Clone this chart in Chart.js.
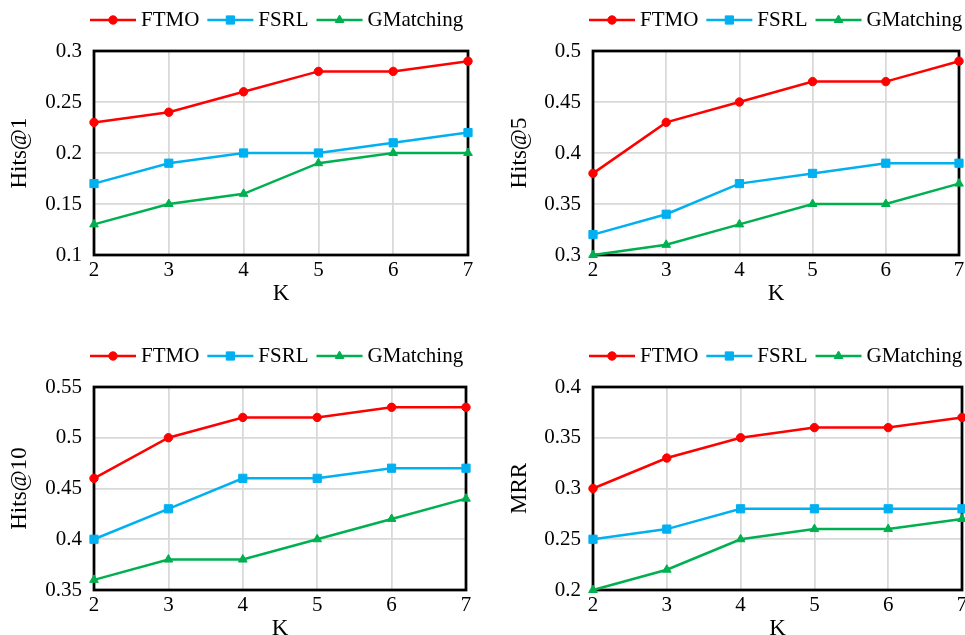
<!DOCTYPE html>
<html>
<head>
<meta charset="utf-8">
<title>Hits@k and MRR vs K</title>
<script src="https://cdn.jsdelivr.net/npm/chart.js@4"></script>
<style>
  html, body { margin: 0; padding: 0; background: #fff; overflow: hidden; }
  body { width: 965px; height: 635px; position: relative; }
  .panel { position: absolute; }
</style>
</head>
<body>
<div class="panel" style="left:0;top:0"><canvas id="hits1" width="480" height="311"></canvas></div>
<div class="panel" style="left:500px;top:0"><canvas id="hits5" width="480" height="311"></canvas></div>
<div class="panel" style="left:0;top:330px"><canvas id="hits10" width="480" height="316"></canvas></div>
<div class="panel" style="left:500px;top:330px"><canvas id="mrr" width="480" height="316"></canvas></div>
<script>
// x categories (K)
const kValues = ['2', '3', '4', '5', '6', '7'];
const seriesNames = ['FTMO', 'FSRL', 'GMatching'];

// Hits@1
const hits1FTMO = [0.23, 0.24, 0.26, 0.28, 0.28, 0.29];
const hits1FSRL = [0.17, 0.19, 0.20, 0.20, 0.21, 0.22];
const hits1GMatching = [0.13, 0.15, 0.16, 0.19, 0.20, 0.20];
const hits1Ticks = [0.1, 0.15, 0.2, 0.25, 0.3];

// Hits@5
const hits5FTMO = [0.38, 0.43, 0.45, 0.47, 0.47, 0.49];
const hits5FSRL = [0.32, 0.34, 0.37, 0.38, 0.39, 0.39];
const hits5GMatching = [0.30, 0.31, 0.33, 0.35, 0.35, 0.37];
const hits5Ticks = [0.3, 0.35, 0.4, 0.45, 0.5];

// Hits@10
const hits10FTMO = [0.46, 0.50, 0.52, 0.52, 0.53, 0.53];
const hits10FSRL = [0.40, 0.43, 0.46, 0.46, 0.47, 0.47];
const hits10GMatching = [0.36, 0.38, 0.38, 0.40, 0.42, 0.44];
const hits10Ticks = [0.35, 0.4, 0.45, 0.5, 0.55];

// MRR
const mrrFTMO = [0.30, 0.33, 0.35, 0.36, 0.36, 0.37];
const mrrFSRL = [0.25, 0.26, 0.28, 0.28, 0.28, 0.28];
const mrrGMatching = [0.20, 0.22, 0.25, 0.26, 0.26, 0.27];
const mrrTicks = [0.2, 0.25, 0.3, 0.35, 0.4];

const colors = ['#FF0000', '#00B0F0', '#00B050'];
const markers = ['circle', 'rect', 'triangle'];
const markerSizes = [4.2, 5.8, 5];

const FONT = '"Liberation Serif", "Times New Roman", serif';
Chart.defaults.font.family = FONT;
Chart.defaults.color = '#000';

// black box round the plot area
const frame = {
    id: 'frame',
    beforeDatasetsDraw(chart) {
        const { ctx, chartArea: a } = chart;
        ctx.save();
        ctx.strokeStyle = '#000';
        ctx.lineWidth = 2.75;
        ctx.strokeRect(a.left, a.top, a.right - a.left, a.bottom - a.top);
        ctx.restore();
    }
};

// legend with a line segment and marker for each series
const lineLegend = {
    id: 'lineLegend',
    afterDraw(chart) {
        const { ctx, chartArea } = chart;
        const y = chartArea.top - 31;
        let x = chartArea.left - 4;
        ctx.save();
        ctx.font = '21px ' + FONT;
        ctx.textBaseline = 'middle';
        chart.data.datasets.forEach(ds => {
            ctx.strokeStyle = ds.borderColor;
            ctx.lineWidth = ds.borderWidth;
            ctx.beginPath();
            ctx.moveTo(x, y);
            ctx.lineTo(x + 46, y);
            ctx.stroke();
            ctx.fillStyle = ds.pointBackgroundColor;
            ctx.lineWidth = 1;
            Chart.helpers.drawPoint(ctx, { pointStyle: ds.pointStyle, radius: ds.pointRadius, rotation: 0, borderWidth: 1 }, x + 23, y);
            ctx.fillStyle = '#000';
            ctx.textAlign = 'left';
            ctx.fillText(ds.label, x + 51, y);
            x += 51 + ctx.measureText(ds.label).width + 8;
        });
        ctx.restore();
    }
};

function makeChart(id, yTitle, series, yTicks, padTop, padRight, axisWidth) {
    new Chart(document.getElementById(id), {
        type: 'line',
        data: {
            labels: kValues,
            datasets: series.map((values, i) => ({
                label: seriesNames[i],
                data: values,
                borderColor: colors[i],
                backgroundColor: colors[i],
                pointBackgroundColor: colors[i],
                pointBorderColor: colors[i],
                borderWidth: 2.5,
                pointStyle: markers[i],
                pointRadius: markerSizes[i],
                pointBorderWidth: 1,
                tension: 0,
                clip: false
            }))
        },
        options: {
            responsive: false,
            animation: false,
            layout: { padding: { top: padTop, right: padRight, left: 0, bottom: 0 } },
            plugins: { legend: { display: false }, tooltip: { enabled: false } },
            scales: {
                x: {
                    offset: false,
                    grid: { color: '#D9D9D9', lineWidth: 1.75, drawTicks: false },
                    border: { display: false },
                    ticks: { padding: 3, font: { size: 21 }, maxRotation: 0 },
                    title: { display: true, text: 'K', font: { size: 23 }, padding: { top: 0, bottom: 3 } },
                    afterFit(scale) { scale.height = 56; }
                },
                y: {
                    min: yTicks[0],
                    max: yTicks[yTicks.length - 1],
                    grid: { color: '#D9D9D9', lineWidth: 1.75, drawTicks: false },
                    border: { display: false },
                    ticks: { padding: 12, font: { size: 21 }, callback: v => String(+v.toFixed(2)) },
                    afterBuildTicks(scale) { scale.ticks = yTicks.map(v => ({ value: v })); },
                    title: { display: true, text: yTitle, font: { size: 23 }, padding: { top: 6, bottom: 0 } },
                    afterFit(scale) { scale.width = axisWidth; }
                }
            }
        },
        plugins: [frame, lineLegend]
    });
}

makeChart('hits1', 'Hits@1', [hits1FTMO, hits1FSRL, hits1GMatching], hits1Ticks, 51, 12, 94);
makeChart('hits5', 'Hits@5', [hits5FTMO, hits5FSRL, hits5GMatching], hits5Ticks, 51, 21, 93);
makeChart('hits10', 'Hits@10', [hits10FTMO, hits10FSRL, hits10GMatching], hits10Ticks, 57, 14, 94);
makeChart('mrr', 'MRR', [mrrFTMO, mrrFSRL, mrrGMatching], mrrTicks, 57, 18, 93);
</script>
</body>
</html>
